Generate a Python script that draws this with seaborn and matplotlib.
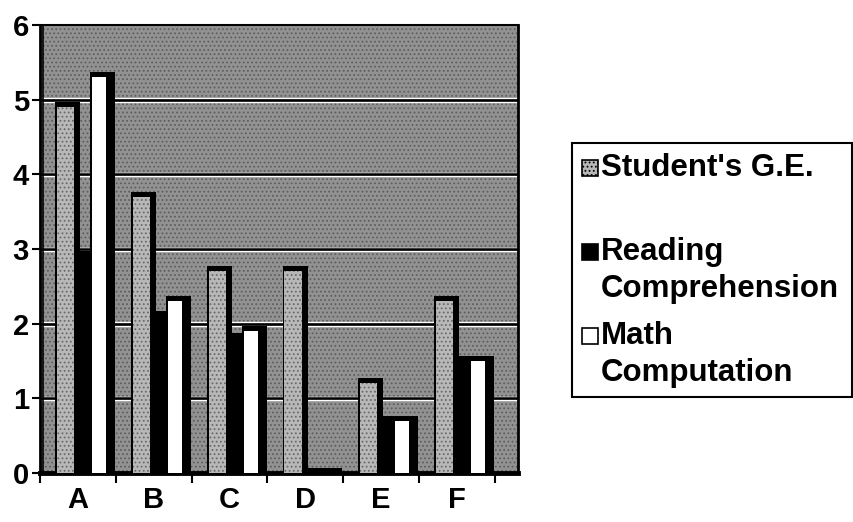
import numpy as np
import matplotlib
matplotlib.use("Agg")
import matplotlib.pyplot as plt
from matplotlib.patches import Rectangle
import seaborn as sns

# Grade-equivalent scores per student
categories = ["A", "B", "C", "D", "E", "F"]
student_ge = [4.9, 3.7, 2.7, 2.7, 1.2, 2.3]
reading_comp = [2.9, 2.1, 1.8, 0.0, 0.7, 1.5]
math_comp = [5.3, 2.3, 1.9, 0.0, 0.7, 1.5]
series_labels = ["Student's G.E.", "Reading\nComprehension", "Math\nComputation"]
y_ticks = [0, 1, 2, 3, 4, 5, 6]

sns.set_theme(style="white")
plt.rcParams["font.family"] = ["Liberation Sans", "DejaVu Sans"]
plt.rcParams["font.weight"] = "bold"
plt.rcParams["hatch.linewidth"] = 0.8

W, H = 854, 522
fig = plt.figure(figsize=(W / 100, H / 100), dpi=100)
fig.patch.set_facecolor("white")

# plot area in pixels: x 40..518, y 25..473
ax = fig.add_axes([40 / W, (H - 473) / H, 478 / W, 448 / H])
ax.set_facecolor("#929292")
ax.add_patch(Rectangle((0, 0), 1, 1, transform=ax.transAxes, facecolor="none",
                       edgecolor="#5e5e5e", hatch="....", linewidth=0, zorder=0.5))

pos = np.arange(len(categories))
CAP = 0.07  # depth of the dark top edge on each column


def columns(values, offset, width, color, zorder, **kw):
    sns.barplot(x=pos + offset, y=values, native_scale=True, orient="x",
                width=width, color=color, saturation=1, errorbar=None,
                ax=ax, zorder=zorder, **kw)


def with_cap(values):
    return [v + CAP for v in values]


# Reading comprehension (behind)
columns(with_cap(reading_comp), 0.095, 0.19, "black", 2, linewidth=0)
# Student's G.E.
columns(with_cap(student_ge), -0.135, 0.33, "black", 3, linewidth=0)
columns(student_ge, -0.163, 0.226, "#b8b8b8", 3.5, linewidth=0,
        edgecolor="#6a6a6a", hatch="....")
# Math computation (front)
columns(with_cap(math_comp), 0.325, 0.33, "black", 4, linewidth=0)
columns(math_comp, 0.278, 0.184, "white", 4.5, linewidth=0)

# gridlines on the back wall
for y in y_ticks[1:-1]:
    ax.axhline(y + 0.02, color="white", lw=1, zorder=1)
    ax.axhline(y, color="black", lw=1.8, zorder=1.1)
    ax.axhline(y - 0.025, color="white", lw=1, zorder=1)
ax.axvline(-0.455, color="black", lw=1.2, zorder=1)

ax.set_xlim(-0.5, -0.5 + 478 / 75.8)
ax.set_ylim(0, 6)

for side in ["left", "right", "top", "bottom"]:
    ax.spines[side].set_visible(True)
    ax.spines[side].set_color("black")
ax.spines["left"].set_linewidth(2)
ax.spines["top"].set_linewidth(1.5)
ax.spines["right"].set_linewidth(2)
ax.spines["bottom"].set_linewidth(3.5)

ax.set_yticks(y_ticks)
ax.set_yticklabels([str(t) for t in y_ticks], fontsize=21, fontweight="bold")
ax.set_xticks(np.arange(-0.5, len(categories), 1.0))
ax.set_xticklabels([])
ax.set_xticks(pos, categories, minor=True)
ax.tick_params(axis="y", which="major", direction="out", length=6, width=1.5,
               pad=2, left=True, colors="black")
ax.tick_params(axis="x", which="major", direction="out", length=7, width=1.5,
               bottom=True, colors="black")
ax.tick_params(axis="x", which="minor", length=0, pad=9, labelsize=21,
               labelcolor="black")
for lab in ax.get_xticklabels(minor=True):
    lab.set_fontweight("bold")
ax.set_xlabel("")
ax.set_ylabel("")
ax.grid(False)


def fx(px):
    return px / W


def fy(py):
    return (H - py) / H


# legend box
fig.patches.append(Rectangle((fx(572), fy(397)), fx(852) - fx(572), fy(143) - fy(397),
                             transform=fig.transFigure, facecolor="white",
                             edgecolor="black", linewidth=1.5, zorder=1))
markers = [("#b8b8b8", "...."), ("black", None), ("white", None)]
rows = [168, 252, 336]
text_kw = dict(fontsize=22.5, fontweight="bold", color="black", va="center",
               ha="left")
for (fc, hatch), yc, label in zip(markers, rows, series_labels):
    fig.patches.append(Rectangle((fx(582), fy(yc + 8)), fx(16), 16 / H,
                                 transform=fig.transFigure, facecolor=fc,
                                 edgecolor="black", linewidth=1.2, hatch=hatch,
                                 zorder=2))
    lines = label.split("\n")
    for k, line in enumerate(lines):
        fig.text(fx(601), fy(yc + k * 37), line, **text_kw)

fig.savefig("out.png", dpi=100)
